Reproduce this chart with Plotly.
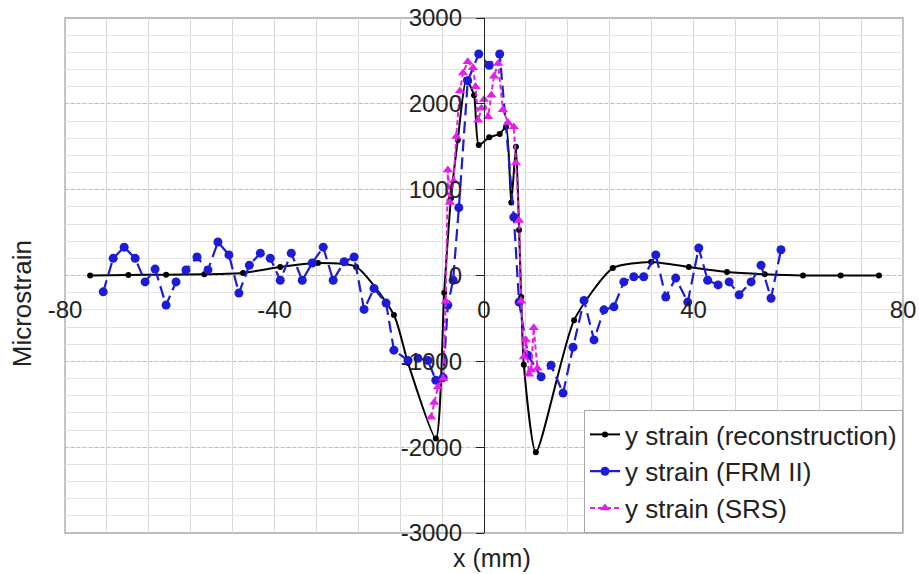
import plotly.graph_objects as go

# ---- data ----
recon_x = [-75.2, -67.9, -60.7, -53.4, -46.0, -38.9, -31.7, -24.4, -17.2, -14.5, -9.2, -7.6, -6.3,
           -5.0, -3.4, -1.9, -1.0, 1.0, 3.0, 4.2, 5.2, 6.1, 6.7, 7.1, 7.6, 9.9, 17.2, 24.6, 31.9,
           39.1, 46.4, 53.6, 60.9, 68.1, 75.4]
recon_y = [0, 5, 10, 15, 30, 100, 145, 100, -460, -1020, -1900, -200, 900,
           1580, 2280, 2100, 1520, 1610, 1650, 1730, 850, 1500, 530, -250, -1040, -2060, -520, 87, 157,
           99, 41, 15, 0, 0, 0]

frm_x = [-72.7, -70.8, -68.7, -66.6, -64.7, -62.8, -60.7, -58.8, -56.9, -54.8, -52.7, -50.8, -48.7,
         -46.8, -44.8, -42.7, -40.8, -38.9, -36.8, -34.7, -32.8, -30.7, -28.8, -26.7, -24.8, -22.9,
         -21.0, -18.7, -17.2, -14.5, -12.6, -10.7, -9.2, -7.8, -6.9, -5.9, -4.8, -3.1, -1.0, 1.0,
         3.0, 5.7, 6.7, 8.4, 10.9, 12.8, 15.1, 17.0, 19.1, 21.0, 22.9, 24.8, 26.7, 28.6, 30.5, 32.8,
         34.7, 36.6, 38.9, 41.0, 42.7, 44.7, 46.8, 48.7, 51.0, 52.9, 54.8, 56.7]
frm_y = [-190, 200, 330, 200, -75, 75, -345, -75, 65, 215, 65, 390, 240,
         -205, 120, 260, 200, -55, 260, -55, 145, 330, -55, 160, 215, -395,
         -150, -320, -870, -990, -965, -990, -1220, -1190, -345, -55, 790, 2270, 2580, 2450,
         2580, 680, -310, -930, -1180, -1045, -1370, -835, -290, -750, -400, -365, -75, -15, -15, 240,
         -250, -30, -310, 320, -55, -110, -75, -225, -75, 120, -265, 300]

srs_x = [-10.1, -9.5, -8.8, -7.8, -7.3, -6.9, -6.5, -5.8, -5.3, -4.6, -4.0, -3.1, -2.1, -1.6, -1.1,
         -0.5, 0.0, 0.8, 1.4, 1.9, 2.7, 3.6, 4.6, 5.7, 6.1, 6.7, 7.1, 7.6, 8.0, 8.6, 9.0, 9.5, 10.2]
srs_y = [-1650, -1480, -1300, -1200, -300, 1230, 850, 1100, 1620, 2150, 2360, 2490, 2420, 2200, 1810,
         1950, 2050, 1850, 2100, 2320, 2470, 1930, 1780, 1730, 1310, 640, -300, -950, -750, -1150, -1100, -610, -1080]

x_ticks = [-80, -40, 0, 40, 80]
y_ticks = [-3000, -2000, -1000, 0, 1000, 2000, 3000]

FONT = "Liberation Sans, Arial, sans-serif"

fig = go.Figure()
fig.add_trace(go.Scatter(
    x=recon_x, y=recon_y, mode="lines+markers", name="y strain (reconstruction)",
    line=dict(color="#000000", width=2, shape="spline", smoothing=0.6),
    marker=dict(color="#000000", size=6, symbol="circle")))
fig.add_trace(go.Scatter(
    x=frm_x, y=frm_y, mode="lines+markers", name="y strain (FRM II)",
    line=dict(color="#1c1cd8", width=2.2, dash="12px,6px"),
    marker=dict(color="#1c1cd8", size=9, symbol="circle")))
fig.add_trace(go.Scatter(
    x=srs_x, y=srs_y, mode="lines+markers", name="y strain (SRS)",
    line=dict(color="#e61ee6", width=2, dash="5px,3px"),
    marker=dict(color="#e61ee6", size=9, symbol="triangle-up")))

fig.update_layout(
    width=919, height=574,
    margin=dict(l=65, r=16, t=18, b=41, autoexpand=False),
    paper_bgcolor="white", plot_bgcolor="white",
    font=dict(family=FONT, color="#222222"),
    showlegend=True,
    legend=dict(
        x=1.0, y=0.0, xanchor="right", yanchor="bottom",
        bgcolor="white", bordercolor="#a6a6a6", borderwidth=1,
        font=dict(family=FONT, size=26, color="#222222"),
        itemwidth=30, tracegroupgap=0,
    ),
    xaxis=dict(
        range=[-80, 80], tickvals=x_ticks, ticktext=[str(v) for v in x_ticks],
        showgrid=True, gridcolor="#d9d9d9", gridwidth=1,
        minor=dict(dtick=8, showgrid=True, gridcolor="#d9d9d9", gridwidth=1, griddash="solid"),
        zeroline=False, showline=False, ticks="", automargin=False,
        anchor="free", position=0.466,
        tickfont=dict(family=FONT, size=24, color="#222222"),
    ),
    yaxis=dict(
        range=[-3000, 3000], tickvals=y_ticks, ticktext=[str(v) for v in y_ticks],
        showgrid=True, gridcolor="#bdbdbd", gridwidth=1, griddash="dot",
        minor=dict(dtick=200, showgrid=True, gridcolor="#e3e3e3", gridwidth=1, griddash="solid"),
        zeroline=False, showline=True, linecolor="#222222", linewidth=1.3,
        ticks="outside", ticklen=8, tickcolor="#222222", ticklabelstandoff=9,
        anchor="free", position=0.5, automargin=False,
        tickfont=dict(family=FONT, size=24, color="#222222"),
    ),
    shapes=[dict(type="rect", xref="paper", yref="paper", x0=0, y0=0, x1=1, y1=1,
                 line=dict(color="#a6a6a6", width=1.3), layer="below")],
    annotations=[
        dict(text="Microstrain", xref="paper", yref="paper", x=-0.052, y=0.445,
             xanchor="center", yanchor="middle", textangle=-90, showarrow=False,
             font=dict(family=FONT, size=26, color="#222222")),
        dict(text="x (mm)", xref="paper", yref="paper", x=0.51, y=-0.049,
             xanchor="center", yanchor="middle", showarrow=False,
             font=dict(family=FONT, size=25, color="#222222")),
    ],
)

fig.write_html("out.html")
